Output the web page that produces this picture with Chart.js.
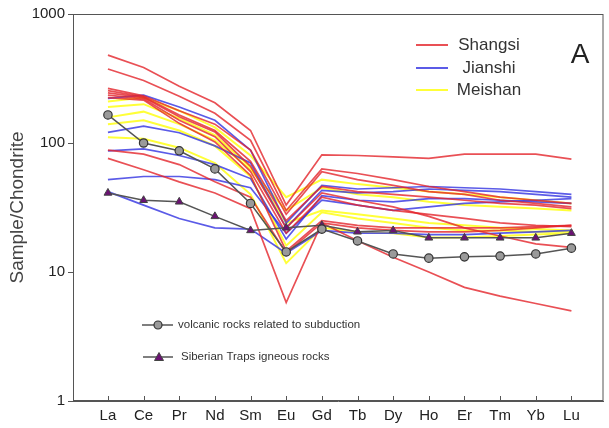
<!DOCTYPE html>
<html><head><meta charset="utf-8">
<script src="https://cdn.jsdelivr.net/npm/chart.js@4"></script>
<style>html,body{margin:0;padding:0;background:#fff}#wrap{width:609px;height:428px;position:relative}</style>
</head><body><div id="wrap"><canvas id="c" width="609" height="428"></canvas></div>
<script>
const elements = ["La","Ce","Pr","Nd","Sm","Eu","Gd","Tb","Dy","Ho","Er","Tm","Yb","Lu"];
const yTicks = [1,10,100,1000];

const shangsi = [
  [480,385,275,205,125,33,81,80,78,76,82,82,82,75],
  [375,305,230,170,105,30,63,58,52,46,42,38,36,34],
  [265,232,178,140,88,28,60,52,47,42,40,36,34,32],
  [255,228,165,125,72,25,46,42,40,38,36,34,33,31],
  [245,225,160,122,66,22,41,36,32,27,22,19,16.5,15.5],
  [235,220,150,112,60,20,38,33,30,28,26,24,23,22.5],
  [225,215,142,102,56,14.5,25,23,22,22,22,22,22.5,23],
  [88,82,68,50,38,14,24,22,21,20.5,20.5,21,22,23],
  [76,62,50,41,31,5.8,24,17.5,13,10,7.6,6.5,5.7,5]
];
const jianshi = [
  [222,235,190,150,88,24,47,44,45,46,45,44,42,40],
  [121,135,120,95,70,22,43,41,42,44,43,42,40,38],
  [87,90,80,68,53,18,39,36,35,37,37,36,35,34],
  [52,55,55,52,45,20,36,33,30,32,34,35,36,37],
  [42,33,26,22,21.5,14,21,20,20,19.5,19.5,20,20.5,21]
];
const meishan = [
  [210,225,178,132,80,38,52,48,45,42,40,38,36,34],
  [158,175,140,105,62,30,45,40,38,35,33,32,31,30],
  [190,200,155,115,65,24,30,28,26,24,23,22,21.5,21],
  [111,108,92,70,40,11.7,22,20.5,20,18.5,18.5,19,19.5,20],
  [140,150,125,95,55,16,29,26,24,22,21,21,20.5,20.5]
];
const subduction = [165,100,87,63,34,14.3,21.5,17.4,13.8,12.8,13.1,13.3,13.8,15.3];
const siberian = [41,36,35,27,21,22,23,20.5,21,18.4,18.4,18.4,18.4,20];

const RED = "rgba(228,36,42,0.8)", BLUE = "rgba(50,50,225,0.8)", YEL = "rgba(255,255,45,0.95)";
function pts(arr){ return arr.map((v,i)=>({x:i,y:v})); }
const datasets = [];
meishan.forEach(a=>datasets.push({data:pts(a),borderColor:YEL,borderWidth:2,pointRadius:0,order:3}));
jianshi.forEach(a=>datasets.push({data:pts(a),borderColor:BLUE,borderWidth:1.7,pointRadius:0,order:2}));
shangsi.forEach(a=>datasets.push({data:pts(a),borderColor:RED,borderWidth:1.7,pointRadius:0,order:1}));
datasets.push({data:pts(subduction),borderColor:"#555",borderWidth:1.5,pointRadius:4.2,pointStyle:"circle",pointBackgroundColor:"#9a9a9a",pointBorderColor:"#333",pointBorderWidth:1.2,order:0});
datasets.push({data:pts(siberian),borderColor:"#555",borderWidth:1.5,pointRadius:4.5,pointStyle:"triangle",pointBackgroundColor:"#6b1273",pointBorderColor:"#444",pointBorderWidth:1,order:0});

const deco = {
  id:"deco",
  afterDraw(chart){
    const ctx = chart.ctx, a = chart.chartArea, xs = chart.scales.x;
    ctx.save();
    ctx.strokeStyle="#555"; ctx.lineWidth=1;
    ctx.strokeRect(a.left+0.5,a.top+0.5,a.right-a.left-1,a.bottom-a.top-1);
    for(let i=0;i<elements.length;i++){
      const x=Math.round(xs.getPixelForValue(i))+0.5;
      ctx.beginPath();ctx.moveTo(x,a.bottom);ctx.lineTo(x,a.bottom-5);ctx.stroke();
    }
    const leg=[["Shangsi",RED,45],["Jianshi",BLUE,68],["Meishan",YEL,90]];
    ctx.font="17px 'Liberation Sans', Arial, sans-serif";
    ctx.textAlign="center"; ctx.textBaseline="middle"; ctx.fillStyle="#333";
    leg.forEach(([t,c,y])=>{
      ctx.strokeStyle=c; ctx.lineWidth=2;
      ctx.beginPath();ctx.moveTo(416,y);ctx.lineTo(448,y);ctx.stroke();
      ctx.fillText(t,489,y);
    });
    ctx.font="28px 'Liberation Sans', Arial, sans-serif";
    ctx.fillStyle="#222";
    ctx.fillText("A",580,55);
    ctx.strokeStyle="#555"; ctx.lineWidth=1.5;
    ctx.beginPath();ctx.moveTo(142,325);ctx.lineTo(173,325);ctx.stroke();
    ctx.beginPath();ctx.arc(158,325,4,0,Math.PI*2);ctx.fillStyle="#9a9a9a";ctx.fill();ctx.strokeStyle="#333";ctx.lineWidth=1.2;ctx.stroke();
    ctx.strokeStyle="#555"; ctx.lineWidth=1.5;
    ctx.beginPath();ctx.moveTo(143,357);ctx.lineTo(173,357);ctx.stroke();
    ctx.beginPath();ctx.moveTo(159,352.5);ctx.lineTo(163.5,360.5);ctx.lineTo(154.5,360.5);ctx.closePath();
    ctx.fillStyle="#6b1273";ctx.fill();ctx.strokeStyle="#444";ctx.lineWidth=1;ctx.stroke();
    ctx.font="11.5px 'Liberation Sans', Arial, sans-serif";
    ctx.textAlign="left"; ctx.fillStyle="#333";
    ctx.fillText("volcanic rocks related to subduction",178,325);
    ctx.fillText("Siberian Traps igneous rocks",181,357);
    ctx.restore();
  }
};

new Chart(document.getElementById("c"),{
  type:"line",
  data:{datasets},
  options:{
    responsive:false, animation:false,
    layout:{padding:{top:14,right:4,left:0,bottom:0}},
    plugins:{legend:{display:false},tooltip:{enabled:false}},
    elements:{line:{tension:0}},
    scales:{
      x:{type:"linear",min:-0.98,max:13.9,
        afterBuildTicks(s){s.ticks=elements.map((e,i)=>({value:i}));},
        afterFit(s){s.height=27;},
        grid:{display:false,drawTicks:false},
        border:{display:true,color:"#555"},
        ticks:{autoSkip:false,maxRotation:0,padding:6,color:"#222",font:{size:15,family:"'Liberation Sans', Arial, sans-serif"},
          callback:(v)=>elements[v]}
      },
      y:{type:"logarithmic",min:1,max:1000,
        afterBuildTicks(s){s.ticks=yTicks.map(v=>({value:v}));},
        afterFit(s){s.width=73;},
        grid:{drawOnChartArea:false,drawTicks:true,tickLength:5,color:"#555"},
        border:{display:true,color:"#555"},
        ticks:{padding:3,color:"#222",font:{size:15,family:"'Liberation Sans', Arial, sans-serif"},callback:(v)=>String(v)},
        title:{display:true,text:"Sample/Chondrite",color:"#444",padding:{top:6,bottom:0},font:{size:19,family:"'Liberation Sans', Arial, sans-serif"}}
      }
    }
  },
  plugins:[deco]
});
</script></body></html>
